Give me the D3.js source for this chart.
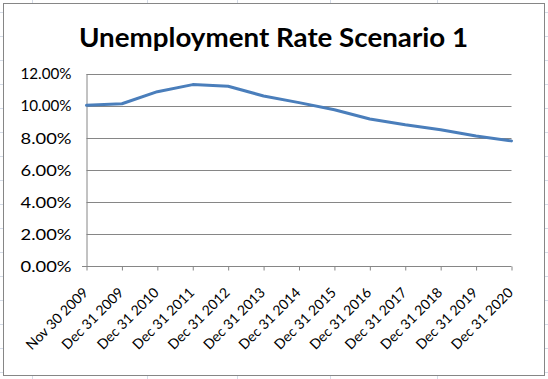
<!DOCTYPE html>
<html>
<head>
<meta charset="utf-8">
<script src="https://cdn.jsdelivr.net/npm/d3@7"></script>
<style>
  html, body { margin: 0; padding: 0; background: #fff; }
  svg { display: block; }
  text { font-family: Lato, "Open Sans", sans-serif; }
</style>
</head>
<body>
<svg id="chart" width="548" height="379"></svg>
<script>
const titleText = "Unemployment Rate Scenario 1";
const categories = ["Nov 30 2009", "Dec 31 2009", "Dec 31 2010", "Dec 31 2011", "Dec 31 2012",
  "Dec 31 2013", "Dec 31 2014", "Dec 31 2015", "Dec 31 2016", "Dec 31 2017",
  "Dec 31 2018", "Dec 31 2019", "Dec 31 2020"];
const rates = [0.1002, 0.1012, 0.1087, 0.1131, 0.1121, 0.1060, 0.1019, 0.0975, 0.0917,
  0.0881, 0.0850, 0.0812, 0.0781];
const yTicks = [0, 0.02, 0.04, 0.06, 0.08, 0.10, 0.12];
const sheetRows = d3.range(12, 379, 24);
const sheetCols = [32, 147, 237, 330, 437];

const svg = d3.select("#chart");
const W = 548, H = 379;

// spreadsheet grid peeking out around the chart object
const sheet = svg.append("g").attr("stroke", "#d4dbe7").attr("stroke-width", 1);
sheetRows.forEach(y => {
  sheet.append("line").attr("x1", 0).attr("x2", 3).attr("y1", y + 0.5).attr("y2", y + 0.5);
  sheet.append("line").attr("x1", 545).attr("x2", W).attr("y1", y + 0.5).attr("y2", y + 0.5);
});
sheetCols.forEach(x => {
  sheet.append("line").attr("x1", x + 0.5).attr("x2", x + 0.5).attr("y1", 0).attr("y2", 3);
  sheet.append("line").attr("x1", x + 0.5).attr("x2", x + 0.5).attr("y1", 376).attr("y2", H);
});

// chart frame
svg.append("rect").attr("x", 3.5).attr("y", 3.5).attr("width", 541).attr("height", 372)
  .attr("fill", "#fff").attr("stroke", "#868686").attr("stroke-width", 1);

const x = d3.scalePoint().domain(categories).range([86.5, 511.5]);
const y = d3.scaleLinear().domain([0, 0.12]).range([266.5, 73.5]);

// title
svg.append("text").attr("x", 79).attr("y", 46.5).attr("text-anchor", "start")
  .attr("font-size", 26.5).attr("font-weight", "bold").attr("fill", "#000")
  .attr("textLength", 389).attr("lengthAdjust", "spacingAndGlyphs")
  .text(titleText);

// gridlines
svg.append("g").selectAll("line").data(yTicks.filter(d => d > 0)).join("line")
  .attr("x1", 86.5).attr("x2", 511.5)
  .attr("y1", d => Math.round(y(d)) + 0.5).attr("y2", d => Math.round(y(d)) + 0.5)
  .attr("stroke", "#868686").attr("stroke-width", 1);

// y axis
const yAxis = d3.axisLeft(y).tickValues(yTicks).tickSize(0).tickPadding(15)
  .tickFormat(d3.format(".2%"));
const gy = svg.append("g").attr("transform", "translate(86.5,0)").call(yAxis);
gy.select(".domain").attr("stroke", "#868686");
gy.selectAll("text").attr("font-size", 14.5).attr("fill", "#000")
  .attr("font-family", "Lato, sans-serif").attr("dy", "0.36em")
  .attr("textLength", 51).attr("lengthAdjust", "spacingAndGlyphs");

// x axis
const xAxis = d3.axisBottom(x).tickSize(4).tickSizeOuter(0).tickPadding(0);
const gx = svg.append("g").attr("transform", "translate(0,266.5)").call(xAxis);
gx.select(".domain").attr("stroke", "#868686").attr("d", "M82,0H511.5");
gx.selectAll(".tick line").attr("stroke", "#868686");
gx.selectAll(".tick text")
  .attr("font-size", 14).attr("fill", "#000").attr("font-family", "Lato, sans-serif")
  .attr("text-anchor", "end").attr("dy", null).attr("y", null)
  .attr("transform", "translate(2,27) rotate(-45)");

// line
const line = d3.line().x((d, i) => x(categories[i])).y(d => y(d));
svg.append("path").datum(rates).attr("d", line)
  .attr("fill", "none").attr("stroke", "#4a7ebb").attr("stroke-width", 3)
  .attr("stroke-linejoin", "round").attr("stroke-linecap", "round");
</script>
</body>
</html>
